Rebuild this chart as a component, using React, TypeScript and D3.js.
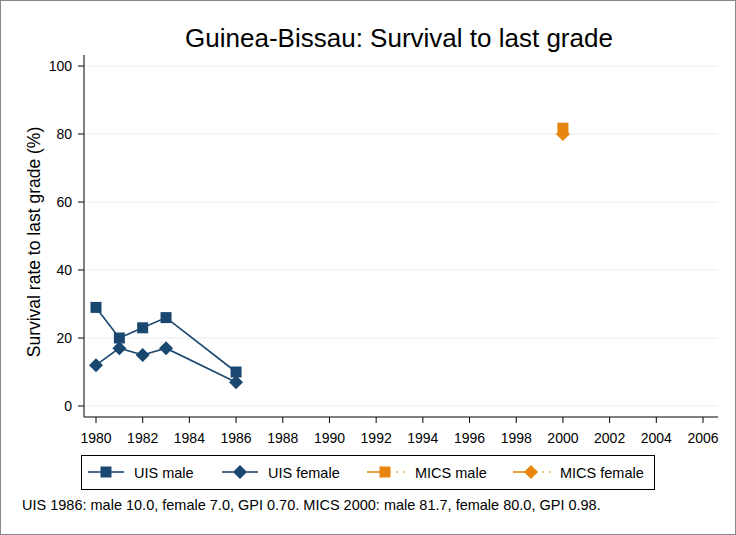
import React from 'react';
import * as d3 from 'd3';

const uisYears = [1980, 1981, 1982, 1983, 1986];
const uisMale = [29, 20, 23, 26, 10];
const uisFemale = [12, 17, 15, 17, 7];
const micsYears = [2000];
const micsMale = [81.7];
const micsFemale = [80.0];
const xTicks = d3.range(1980, 2007, 2);
const yTicks = [0, 20, 40, 60, 80, 100];

const navy = '#1a476f';
const orange = '#e8850c';

const W = 736;
const H = 535;

const App = () => {
  const x = d3.scaleLinear().domain([1980, 2006]).range([96, 703]);
  const y = d3.scaleLinear().domain([0, 100]).range([406, 66]);
  const line = d3.line<[number, number]>().x(d => x(d[0])).y(d => y(d[1]));

  const square = (cx: number, cy: number, c: string, k: string) => (
    <rect key={k} x={cx - 5.5} y={cy - 5.5} width={11} height={11} fill={c} />
  );
  const diamond = (cx: number, cy: number, c: string, k: string) => (
    <path key={k} d={`M${cx},${cy - 7}L${cx + 7},${cy}L${cx},${cy + 7}L${cx - 7},${cy}Z`} fill={c} />
  );

  const font = 'Liberation Sans, Arial, sans-serif';
  const legend = [
    { label: 'UIS male', c: navy, m: square, dash: false, x0: 88, tx: 134 },
    { label: 'UIS female', c: navy, m: diamond, dash: false, x0: 222, tx: 268 },
    { label: 'MICS male', c: orange, m: square, dash: true, x0: 367, tx: 415 },
    { label: 'MICS female', c: orange, m: diamond, dash: true, x0: 513, tx: 560 },
  ];

  return (
    <svg width={W} height={H} style={{ position: 'absolute', left: 0, top: 0, fontFamily: font }}>
      <rect x={0.5} y={0.5} width={W - 1} height={H - 1} fill="white" stroke="#888" />
      <text x={399} y={47} textAnchor="middle" fontSize={26} fill="black">Guinea-Bissau: Survival to last grade</text>

      {yTicks.map(t => (
        <g key={t}>
          <line x1={84} x2={718} y1={y(t)} y2={y(t)} stroke="#e6eef2" strokeWidth={1.2} />
          <line x1={78} x2={84} y1={y(t)} y2={y(t)} stroke="black" />
          <text x={72} y={y(t) + 5} textAnchor="end" fontSize={14}>{t}</text>
        </g>
      ))}
      <line x1={84} x2={84} y1={55} y2={417} stroke="black" />
      <line x1={84} x2={718} y1={417} y2={417} stroke="black" />
      {xTicks.map(t => (
        <g key={t}>
          <line x1={x(t)} x2={x(t)} y1={417} y2={423} stroke="black" />
          <text x={x(t)} y={443} textAnchor="middle" fontSize={14}>{t}</text>
        </g>
      ))}
      <text transform={`translate(40,242) rotate(-90)`} textAnchor="middle" fontSize={17.5}>Survival rate to last grade (%)</text>

      <path d={line(uisYears.map((v, i) => [v, uisMale[i]]) as [number, number][]) || ''} fill="none" stroke={navy} strokeWidth={1.6} />
      <path d={line(uisYears.map((v, i) => [v, uisFemale[i]]) as [number, number][]) || ''} fill="none" stroke={navy} strokeWidth={1.6} />
      {uisYears.map((v, i) => square(x(v), y(uisMale[i]), navy, 'um' + i))}
      {uisYears.map((v, i) => diamond(x(v), y(uisFemale[i]), navy, 'uf' + i))}
      {micsYears.map((v, i) => square(x(v), y(micsMale[i]), orange, 'mm' + i))}
      {micsYears.map((v, i) => diamond(x(v), y(micsFemale[i]), orange, 'mf' + i))}

      <rect x={81.5} y={455.5} width={573} height={34} fill="white" stroke="black" />
      {legend.map(l => (
        <g key={l.label}>
          <line x1={l.x0} x2={l.x0 + 18} y1={472} y2={472} stroke={l.c} strokeWidth={1.6} />
          {l.dash && <line x1={l.x0 + 22} x2={l.x0 + 38} y1={472} y2={472} stroke={l.c} strokeWidth={1.2} strokeDasharray="2,5" />}
          {!l.dash && <line x1={l.x0 + 18} x2={l.x0 + 36} y1={472} y2={472} stroke={l.c} strokeWidth={1.6} />}
          {l.m(l.x0 + 18, 472, l.c, 'lm')}
          <text x={l.tx} y={478} fontSize={14.5}>{l.label}</text>
        </g>
      ))}
      <text x={22} y={510} fontSize={14.5}>UIS 1986: male 10.0, female 7.0, GPI 0.70. MICS 2000: male 81.7, female 80.0, GPI 0.98.</text>
    </svg>
  );
};

export default App;
